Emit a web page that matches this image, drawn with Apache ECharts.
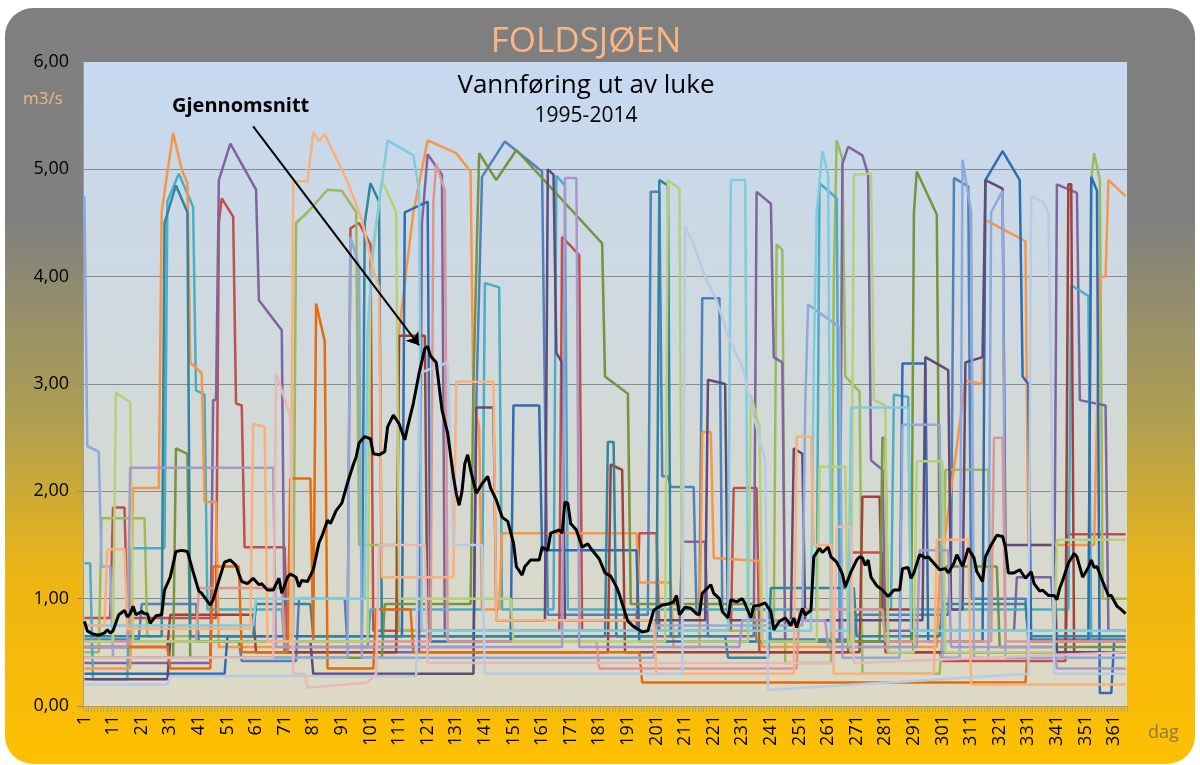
<!DOCTYPE html>
<html><head><meta charset="utf-8">
<script src="https://cdn.jsdelivr.net/npm/echarts@6/dist/echarts.min.js"></script>
<style>html,body{margin:0;padding:0;background:#fff}#c{width:1200px;height:765px}</style>
</head><body><div id="c"></div>
<script>
// ---- data (day, m3/s) ----
const days = Array.from({length: 365}, (_, i) => String(i + 1));
const yTicks = [0, 1, 2, 3, 4, 5, 6];

const avg = [[1,0.79],[2,0.70],[4,0.67],[6,0.66],[8,0.68],[9,0.71],[10,0.68],[11,0.70],[13,0.85],[15,0.89],[16,0.83],[17,0.86],[18,0.93],[19,0.85],[21,0.88],[22,0.86],[23,0.86],[24,0.77],[26,0.84],[28,0.85],[29,1.08],[31,1.2],[33,1.44],[35,1.45],[37,1.44],[39,1.25],[41,1.07],[42,1.05],[45,0.94],[46,0.99],[48,1.17],[50,1.34],[52,1.36],[54,1.31],[55,1.23],[56,1.16],[58,1.14],[60,1.19],[62,1.13],[63,1.14],[65,1.08],[67,1.08],[69,1.19],[70,1.05],[72,1.2],[73,1.23],[75,1.2],[76,1.11],[77,1.17],[79,1.16],[81,1.27],[83,1.52],[84,1.58],[86,1.73],[87,1.70],[89,1.82],[91,1.89],[93,2.08],[95,2.25],[96,2.32],[97,2.45],[99,2.51],[101,2.49],[102,2.35],[104,2.34],[106,2.37],[107,2.6],[109,2.71],[111,2.63],[113,2.48],[114,2.6],[116,2.82],[118,3.10],[120,3.33],[121,3.35],[122,3.26],[124,3.2],[125,2.98],[126,2.76],[128,2.54],[130,2.14],[131,1.98],[132,1.87],[133,2.0],[134,2.26],[135,2.34],[136,2.2],[138,1.98],[140,2.07],[142,2.14],[143,2.03],[145,1.92],[147,1.76],[149,1.72],[151,1.52],[152,1.30],[154,1.22],[155,1.30],[157,1.36],[160,1.36],[161,1.48],[163,1.45],[164,1.61],[167,1.64],[168,1.61],[169,1.90],[170,1.89],[171,1.70],[173,1.64],[175,1.48],[177,1.51],[178,1.47],[181,1.37],[183,1.24],[185,1.21],[187,1.11],[188,1.04],[190,0.87],[191,0.79],[193,0.74],[196,0.69],[198,0.70],[200,0.89],[201,0.91],[203,0.94],[205,0.95],[207,0.97],[208,1.03],[209,0.85],[211,0.92],[213,0.91],[215,0.86],[216,0.85],[217,1.05],[220,1.13],[221,1.05],[223,1.00],[224,0.88],[226,0.82],[227,0.99],[229,0.97],[231,1.00],[232,0.95],[234,0.82],[235,0.93],[237,0.94],[239,0.96],[241,0.88],[242,0.71],[244,0.79],[246,0.82],[248,0.75],[249,0.82],[250,0.73],[252,0.91],[253,0.85],[255,0.89],[256,1.39],[258,1.47],[259,1.43],[261,1.48],[262,1.39],[264,1.34],[266,1.23],[267,1.11],[269,1.25],[271,1.36],[272,1.39],[273,1.38],[274,1.31],[275,1.36],[276,1.2],[278,1.12],[280,1.08],[282,1.02],[284,1.08],[286,1.08],[287,1.28],[289,1.29],[290,1.19],[291,1.24],[293,1.41],[295,1.38],[296,1.39],[298,1.33],[300,1.27],[302,1.28],[303,1.24],[305,1.33],[306,1.41],[308,1.30],[309,1.38],[310,1.47],[312,1.38],[313,1.25],[315,1.16],[316,1.39],[318,1.50],[320,1.59],[322,1.58],[323,1.48],[324,1.24],[326,1.24],[328,1.27],[330,1.19],[332,1.25],[333,1.14],[335,1.07],[336,1.08],[338,1.03],[340,1.03],[341,0.99],[342,1.1],[343,1.17],[345,1.33],[347,1.42],[348,1.39],[350,1.20],[352,1.29],[353,1.36],[354,1.29],[355,1.30],[357,1.16],[359,1.03],[360,1.03],[362,0.93],[363,0.91],[365,0.86]];

const y01 = [[1,0.62],[20,0.62],[21,0.95],[40,0.95],[41,0.6],[55,0.6],[56,0.42],[75,0.42],[76,1.0],[92,1.0],[93,0.55],[137,0.55],[138,2.82],[140,4.93],[148,5.26],[161,4.98],[162,2.82],[163,0.85],[198,0.85],[199,4.79],[202,4.79],[203,2.14],[205,2.14],[206,2.04],[214,2.04],[215,0.85],[216,0.85],[217,3.8],[223,3.8],[224,0.9],[240,0.9],[241,0.62],[270,0.62],[271,0.85],[303,0.85],[304,1.4],[305,4.92],[310,4.84],[311,1.0],[330,1.0],[331,0.62],[365,0.62]];
const y02 = [[1,0.82],[10,0.82],[11,1.85],[15,1.85],[16,0.82],[47,0.82],[48,4.5],[49,4.73],[53,4.56],[54,2.82],[56,2.8],[57,1.48],[71,1.48],[72,0.6],[93,0.6],[94,4.45],[97,4.5],[101,4.3],[102,0.7],[167,0.7],[168,4.37],[174,4.2],[175,0.7],[194,0.7],[195,1.61],[201,1.61],[202,0.7],[227,0.7],[228,2.03],[236,2.03],[237,0.5],[268,0.5],[269,1.43],[280,1.43],[281,0.5],[300,0.5],[301,0.42],[344,0.42],[345,1.6],[365,1.6]];
const y03 = [[1,0.5],[6,0.5],[7,1.75],[22,1.75],[23,0.65],[74,0.65],[75,4.5],[79,4.6],[86,4.81],[91,4.8],[96,4.6],[97,1.5],[110,1.5],[111,0.7],[242,0.7],[243,4.3],[245,4.25],[246,0.4],[262,0.4],[263,4.0],[264,5.27],[266,5.1],[267,3.07],[272,2.93],[273,0.3],[300,0.3],[301,0.7],[302,2.2],[317,2.2],[318,0.7],[352,0.7],[353,4.9],[354,5.15],[356,4.9],[357,1.0],[365,1.0]];
const y04 = [[1,0.4],[45,0.4],[46,2.85],[47,2.85],[48,4.9],[52,5.24],[61,4.81],[62,3.78],[70,3.5],[71,0.5],[118,0.5],[119,4.5],[121,5.14],[126,4.95],[127,0.65],[209,0.65],[210,1.53],[218,1.53],[219,0.65],[235,0.65],[236,4.79],[241,4.68],[242,3.25],[245,3.2],[246,0.6],[265,0.6],[266,5.05],[268,5.21],[273,5.13],[275,4.95],[276,2.29],[280,2.2],[281,0.7],[326,0.7],[327,1.2],[339,1.2],[340,0.7],[341,4.86],[348,4.78],[349,2.85],[358,2.8],[359,0.7],[365,0.7]];
const y05 = [[1,1.33],[3,1.33],[4,0.25],[16,0.25],[17,1.47],[29,1.47],[30,4.7],[34,4.96],[39,4.65],[40,2.94],[43,2.9],[44,0.9],[70,0.9],[71,0.55],[100,0.55],[101,0.9],[140,0.9],[141,3.94],[146,3.9],[147,0.9],[165,0.9],[166,4.94],[169,4.85],[170,0.9],[257,0.9],[258,4.87],[264,4.73],[265,0.9],[283,0.9],[284,2.9],[289,2.88],[290,0.9],[345,0.9],[346,3.92],[352,3.82],[353,0.6],[365,0.6]];
const y06 = [[1,0.35],[17,0.35],[18,2.03],[27,2.03],[28,4.6],[32,5.34],[35,5.0],[37,4.87],[38,3.2],[42,3.1],[43,1.9],[47,1.9],[48,0.55],[110,0.55],[111,3.5],[116,4.6],[121,5.27],[131,5.15],[136,4.98],[137,2.82],[139,2.6],[140,0.9],[146,0.9],[147,1.61],[194,1.61],[195,1.15],[206,1.15],[207,0.55],[216,0.55],[217,2.55],[220,2.55],[221,1.38],[237,1.35],[238,0.55],[299,0.55],[300,1.2],[309,3.03],[315,3.0],[316,4.53],[330,4.33],[331,1.5],[354,1.5],[355,2.67],[356,4.0],[358,4.0],[359,4.9],[365,4.75]];
const y07 = [[1,0.3],[50,0.3],[51,0.65],[112,0.65],[113,4.6],[121,4.7],[122,0.6],[150,0.6],[151,2.8],[160,2.8],[161,1.45],[194,1.45],[195,0.6],[286,0.6],[287,3.19],[295,3.19],[296,0.6],[315,0.6],[316,4.9],[322,5.17],[328,4.9],[329,3.07],[331,3.0],[332,0.6],[352,0.6],[353,4.93],[355,4.8],[356,0.12],[360,0.12],[361,0.6],[365,0.6]];
const y08 = [[1,0.55],[30,0.55],[31,0.85],[60,0.85],[61,0.5],[110,0.5],[111,3.45],[120,3.45],[121,0.5],[184,0.5],[185,2.25],[189,2.2],[190,0.5],[272,0.5],[273,1.95],[279,1.95],[280,0.9],[290,0.9],[291,0.5],[344,0.5],[345,4.86],[346,4.86],[347,0.5],[365,0.5]];
const y09 = [[1,0.45],[32,0.45],[33,2.4],[37,2.35],[38,0.45],[105,0.45],[106,0.95],[136,0.95],[137,3.0],[139,5.15],[145,4.9],[152,5.18],[182,4.31],[183,3.07],[191,2.91],[192,0.95],[235,0.95],[236,0.6],[279,0.6],[280,2.5],[281,2.5],[282,0.6],[290,0.6],[291,4.6],[292,4.98],[299,4.58],[300,1.3],[320,1.3],[321,0.55],[365,0.55]];
const y10 = [[1,0.25],[30,0.25],[31,0.6],[80,0.6],[81,0.3],[137,0.3],[138,2.78],[144,2.78],[145,0.8],[162,0.8],[163,5.0],[165,4.95],[166,3.29],[168,3.2],[169,0.8],[218,0.8],[219,3.04],[225,3.0],[226,0.8],[248,0.8],[249,2.4],[252,2.35],[253,0.8],[294,0.8],[295,3.25],[303,3.13],[304,0.9],[308,0.9],[309,3.2],[315,3.25],[316,4.9],[322,4.82],[323,1.5],[340,1.5],[341,0.5],[365,0.5]];
const y11 = [[1,0.65],[28,0.65],[29,4.5],[33,4.85],[37,4.6],[38,0.65],[60,0.65],[61,0.95],[80,0.95],[81,0.65],[98,0.65],[99,4.5],[101,4.87],[104,4.7],[105,0.65],[183,0.65],[184,2.46],[186,2.46],[187,0.65],[201,0.65],[202,4.9],[205,4.85],[206,0.65],[225,0.65],[226,0.45],[240,0.45],[241,1.1],[270,1.1],[271,0.65],[300,0.65],[301,0.95],[330,0.95],[331,0.65],[365,0.65]];
const y12 = [[1,0.55],[30,0.55],[31,0.35],[45,0.35],[46,1.3],[55,1.3],[56,0.5],[72,0.5],[73,2.12],[80,2.12],[81,0.6],[82,3.75],[85,3.4],[86,0.35],[102,0.35],[103,0.9],[115,0.9],[116,0.5],[195,0.5],[196,0.22],[330,0.22],[331,0.6],[365,0.6]];
const y13 = [[1,4.75],[2,2.42],[6,2.37],[7,1.3],[10,1.3],[11,0.45],[93,0.45],[94,4.37],[97,4.1],[98,0.45],[200,0.45],[201,0.75],[252,0.75],[253,2.8],[254,3.74],[265,3.53],[266,0.45],[286,0.45],[287,2.62],[300,2.62],[301,0.45],[307,0.45],[308,5.09],[311,4.6],[312,0.45],[317,0.45],[318,4.6],[322,4.8],[323,0.45],[365,0.45]];
const y14 = [[1,0.6],[40,0.6],[41,1.1],[70,1.1],[71,0.6],[122,0.6],[123,4.7],[124,5.05],[127,4.8],[128,0.6],[180,0.6],[181,0.35],[250,0.35],[251,0.9],[280,0.9],[281,0.6],[318,0.6],[319,2.5],[322,2.5],[323,0.6],[365,0.6]];
const y15 = [[1,0.6],[11,0.6],[12,2.92],[17,2.83],[18,0.6],[100,0.6],[101,4.0],[105,4.9],[110,4.6],[111,1.0],[150,1.0],[151,0.6],[204,0.6],[205,4.9],[209,4.82],[210,0.6],[233,0.6],[234,2.9],[237,2.6],[238,0.6],[257,0.6],[258,2.23],[267,2.23],[268,0.6],[269,0.5],[270,4.95],[276,4.96],[277,2.85],[281,2.8],[282,0.5],[291,0.5],[292,2.28],[301,2.28],[302,0.5],[340,0.5],[341,1.55],[365,1.55]];
const y16 = [[1,0.55],[16,0.55],[17,2.22],[67,2.22],[68,0.55],[168,0.55],[169,4.92],[173,4.92],[174,0.55],[230,0.55],[231,0.8],[260,0.8],[261,0.55],[292,0.55],[293,1.45],[303,1.45],[304,0.55],[340,0.55],[341,0.35],[365,0.35]];
const y17 = [[1,0.75],[60,0.75],[61,1.0],[99,1.0],[100,3.5],[102,4.3],[107,5.27],[116,5.13],[118,4.8],[119,0.7],[226,0.7],[227,4.9],[232,4.9],[233,0.7],[255,0.7],[256,3.2],[257,4.6],[259,5.17],[261,4.95],[262,0.7],[268,0.7],[269,2.78],[289,2.78],[290,0.7],[365,0.7]];
const y18 = [[1,0.75],[8,0.75],[9,1.46],[15,1.46],[16,0.72],[59,0.72],[60,2.63],[64,2.6],[65,0.6],[73,0.6],[74,4.89],[79,4.89],[81,5.35],[83,5.26],[85,5.33],[93,4.88],[98,4.53],[102,4.06],[104,3.9],[105,1.2],[130,1.2],[131,3.02],[144,3.02],[145,0.8],[200,0.8],[201,0.3],[249,0.3],[250,2.51],[255,2.51],[256,1.5],[262,1.5],[263,0.3],[298,0.3],[299,1.55],[310,1.55],[311,0.2],[365,0.2]];
const y19 = [[1,0.2],[30,0.2],[31,0.28],[117,0.28],[118,3.1],[128,3.2],[130,1.5],[140,1.5],[141,0.3],[210,0.3],[211,4.47],[214,4.3],[218,4.0],[222,3.78],[226,3.45],[231,3.16],[235,2.7],[239,2.29],[240,0.15],[300,0.25],[331,0.3],[332,4.75],[336,4.7],[338,4.6],[339,2.98],[340,0.3],[365,0.3]];
const y20 = [[1,0.45],[67,0.45],[68,3.1],[73,2.7],[74,0.3],[78,0.3],[79,0.17],[100,0.22],[103,0.3],[104,1.5],[120,1.5],[121,0.4],[263,0.4],[264,1.67],[269,1.67],[270,0.4],[365,0.5]];

const years = [y01,y02,y03,y04,y05,y06,y07,y08,y09,y10,y11,y12,y13,y14,y15,y16,y17,y18,y19,y20];
const colors = ['#4F81BD','#C0504D','#9BBB59','#8064A2','#4BACC6','#F79646','#2E6DB4','#A0403C','#77933C','#604A7B',
                '#31859C','#E46C0A','#8EA9DB','#D99694','#B5D178','#A898C8','#7FCBE0','#F9B07A','#B7CBE6','#E6B9B8'];

const toIdx = arr => arr.map(p => [p[0] - 1, p[1]]);

const series = years.map((d, i) => ({
  type: 'line', name: 'y' + (i + 1), data: toIdx(d), showSymbol: false, symbol: 'none',
  silent: true, animation: false, z: 2,
  lineStyle: { color: colors[i], width: 2.5 }
}));
series.push({
  type: 'line', name: 'Gjennomsnitt', data: toIdx(avg), showSymbol: false, symbol: 'none',
  silent: true, animation: false, z: 10,
  lineStyle: { color: '#000', width: 3 },
  markLine: {
    silent: true, animation: false, symbol: ['none', 'arrow'], symbolSize: 12,
    label: { show: false },
    lineStyle: { color: '#000', width: 2, type: 'solid' },
    data: [[{ coord: [59, 5.40] }, { coord: [117, 3.36] }]]
  }
});

const chart = echarts.init(document.getElementById('c'), null, { renderer: 'canvas' });
chart.setOption({
  animation: false,
  backgroundColor: '#ffffff',
  graphic: [
    { type: 'rect', z: -10, silent: true,
      shape: { x: 5, y: 8, width: 1190, height: 756, r: 28 },
      style: { fill: new echarts.graphic.LinearGradient(0, 0, 0, 1, [
        { offset: 0, color: '#7F7F7F' }, { offset: 0.28, color: '#808080' },
        { offset: 0.55, color: '#B0A050' }, { offset: 0.75, color: '#EDB515' }, { offset: 1, color: '#FFC000' }]) } },
    { type: 'text', z: 20, silent: true,
      style: { x: 586, y: 42, text: 'FOLDSJØEN', textAlign: 'center', textVerticalAlign: 'middle',
        fill: '#F9B583', font: '35px "Open Sans"' } },
    { type: 'text', z: 20, silent: true,
      style: { x: 586, y: 86, text: 'Vannføring ut av luke', textAlign: 'center', textVerticalAlign: 'middle',
        fill: '#000', font: '26px "Open Sans"' } },
    { type: 'text', z: 20, silent: true,
      style: { x: 586, y: 116, text: '1995-2014', textAlign: 'center', textVerticalAlign: 'middle',
        fill: '#000', font: '21px "Open Sans"' } },
    { type: 'text', z: 20, silent: true,
      style: { x: 172, y: 106, text: 'Gjennomsnitt', textAlign: 'left', textVerticalAlign: 'middle',
        fill: '#000', font: 'bold 20px "Open Sans"' } },
    { type: 'text', z: 20, silent: true,
      style: { x: 23, y: 99, text: 'm3/s', textAlign: 'left', textVerticalAlign: 'middle',
        fill: '#F9B583', font: '17px "Open Sans"' } },
    { type: 'text', z: 20, silent: true,
      style: { x: 1148, y: 733, text: 'dag', textAlign: 'left', textVerticalAlign: 'middle',
        fill: '#8A7A3A', font: '18px "Open Sans"' } }
  ],
  grid: {
    left: 83, right: 73, top: 62, bottom: 59, show: true, borderWidth: 0,
    backgroundColor: new echarts.graphic.LinearGradient(0, 0, 0, 1, [
      { offset: 0, color: '#C6D9F1' }, { offset: 1, color: '#DDD9C3' }])
  },
  xAxis: {
    type: 'category', data: days, boundaryGap: true,
    axisLine: { show: true, lineStyle: { color: '#9C9C9C', width: 1 } },
    axisTick: { show: true, interval: 0, length: 6, lineStyle: { color: '#B8A468', width: 1 } },
    axisLabel: { interval: 9, rotate: 90, color: '#000', fontSize: 18, fontFamily: 'Open Sans', margin: 9 },
    splitLine: { show: false }
  },
  yAxis: {
    type: 'value', min: yTicks[0], max: yTicks[yTicks.length - 1], interval: 1,
    axisLine: { show: true, lineStyle: { color: '#9C9C9C' } },
    axisTick: { show: true, length: 6, lineStyle: { color: '#8C8C8C' } },
    axisLabel: { color: '#000', fontSize: 18, fontFamily: 'Open Sans', margin: 14,
      formatter: v => v.toFixed(2).replace('.', ',') },
    splitLine: { show: true, lineStyle: { color: ['#8C8C8C','#8C8C8C','#8C8C8C','#8C8C8C','#8C8C8C','#8C8C8C','rgba(0,0,0,0)'], width: 1 } }
  },
  series: series
});
</script></body></html>
